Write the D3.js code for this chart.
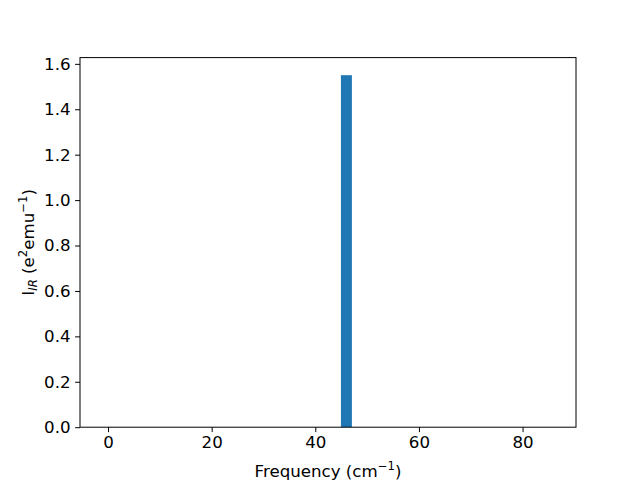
<!DOCTYPE html>
<html>
<head>
<meta charset="utf-8">
<script src="https://cdn.jsdelivr.net/npm/d3@7/dist/d3.min.js"></script>
<style>
  html, body { margin: 0; padding: 0; background: #fff; }
  svg { display: block; }
  text { font-family: "DejaVu Sans", sans-serif; }
</style>
</head>
<body>
<script>
const frequencies = [0, 46.0, 84.9];
const intensities = [0, 1.55, 0];
const barWidth = 2.12;
const xTicks = [0, 20, 40, 60, 80];
const yTicks = [0, 0.2, 0.4, 0.6, 0.8, 1.0, 1.2, 1.4, 1.6];

const W = 640, H = 480;
const m = { left: 80, right: 64, top: 57.6, bottom: 52.8 };
const fs = 16.67;

const svg = d3.select("body").append("svg").attr("width", W).attr("height", H);

const xmin = d3.min(frequencies) - barWidth / 2;
const xmax = d3.max(frequencies) + barWidth / 2;
const xpad = (xmax - xmin) * 0.05;
const x = d3.scaleLinear().domain([xmin - xpad, xmax + xpad]).range([m.left, W - m.right]);
const ymax = d3.max(intensities) * 1.05;
const y = d3.scaleLinear().domain([0, ymax]).range([H - m.bottom, m.top]);

const data = frequencies.map((f, i) => ({ f, v: intensities[i] }));

svg.append("g").selectAll("rect").data(data.filter(d => d.v > 0)).join("rect")
  .attr("x", d => x(d.f - barWidth / 2))
  .attr("width", d => x(d.f + barWidth / 2) - x(d.f - barWidth / 2))
  .attr("y", d => y(d.v))
  .attr("height", d => y(0) - y(d.v))
  .attr("fill", "#1f77b4");

const xAxis = svg.append("g").attr("transform", `translate(0,${H - m.bottom})`)
  .call(d3.axisBottom(x).tickValues(xTicks).tickFormat(d3.format("d")).tickSizeOuter(0).tickSize(4.9).tickPadding(4.5));
const yAxis = svg.append("g").attr("transform", `translate(${m.left},0)`)
  .call(d3.axisLeft(y).tickValues(yTicks).tickFormat(d3.format(".1f")).tickSizeOuter(0).tickSize(4.9).tickPadding(4.5));

[xAxis, yAxis].forEach(g => {
  g.select(".domain").remove();
  g.selectAll("line").attr("stroke", "#000").attr("stroke-width", 1);
  g.selectAll("text").attr("font-size", fs).attr("font-family", "DejaVu Sans").attr("fill", "#000");
});

// frame
svg.append("rect")
  .attr("x", m.left).attr("y", m.top)
  .attr("width", W - m.left - m.right).attr("height", H - m.top - m.bottom)
  .attr("fill", "none").attr("stroke", "#000").attr("stroke-width", 1);

// x label
const xl = svg.append("text").attr("x", (m.left + W - m.right) / 2).attr("y", 477)
  .attr("text-anchor", "middle").attr("font-size", fs);
xl.append("tspan").text("Frequency (cm");
xl.append("tspan").attr("font-size", fs * 0.7).attr("dy", -fs * 0.42).text("\u22121");
xl.append("tspan").attr("dy", fs * 0.42).text(")");

// y label
const yl = svg.append("text").attr("transform", `translate(34,${(m.top + H - m.bottom) / 2}) rotate(-90)`)
  .attr("text-anchor", "middle").attr("font-size", fs);
yl.append("tspan").text("I");
yl.append("tspan").attr("font-size", fs * 0.7).attr("font-style", "italic").attr("dy", fs * 0.2).text("IR");
yl.append("tspan").attr("dy", -fs * 0.2).text(" (e");
yl.append("tspan").attr("font-size", fs * 0.7).attr("dy", -fs * 0.42).text("2");
yl.append("tspan").attr("dy", fs * 0.42).text("emu");
yl.append("tspan").attr("font-size", fs * 0.7).attr("dy", -fs * 0.42).text("\u22121");
yl.append("tspan").attr("dy", fs * 0.42).text(")");
</script>
</body>
</html>
